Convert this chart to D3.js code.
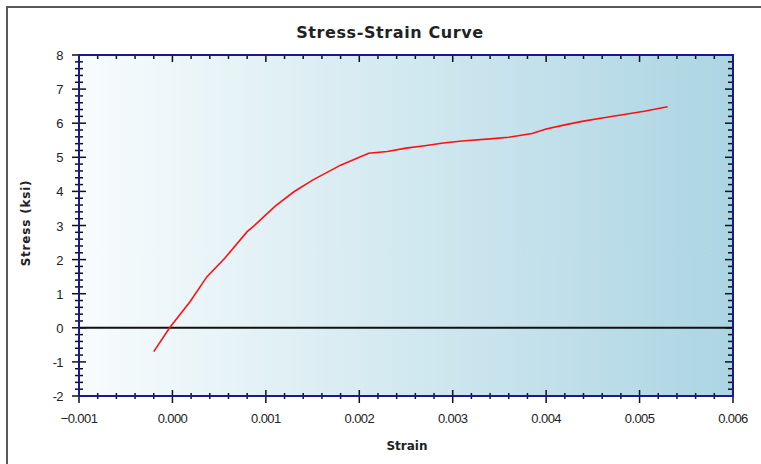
<!DOCTYPE html>
<html lang="en">
	<head>
		<meta charset="utf-8">
		<title>Stress-Strain Curve</title>
		<script type="text/javascript" src="https://d3js.org/d3.v7.min.js"></script>
		<style type="text/css">
			body { margin: 0; background: white; }
			svg { display: block; }
			.tick-label { font-family: "Liberation Sans", Arial, sans-serif; font-size: 13px; fill: #222; letter-spacing: -0.6px; }
			.title { font-family: "DejaVu Sans", sans-serif; font-weight: bold; font-size: 16px; fill: #222; letter-spacing: 0.6px; }
			.axis-title { font-family: "DejaVu Sans", sans-serif; font-weight: bold; font-size: 12px; fill: #222; }
		</style>
	</head>
	<body>
		<svg id="chart" width="761" height="464"></svg>
		<script type="text/javascript">
			// values
			const strain = [-0.0002, -0.00003, 0.00019, 0.00037, 0.00056, 0.0008, 0.00087, 0.0011, 0.0013, 0.0015, 0.0018, 0.0021, 0.0023, 0.0025, 0.0027, 0.0029, 0.0031, 0.0034, 0.0036, 0.0037, 0.00385, 0.004, 0.0042, 0.0044, 0.0046, 0.0048, 0.00505, 0.0053];
			const stress = [-0.7, 0.0, 0.77, 1.5, 2.04, 2.82, 2.98, 3.57, 3.99, 4.33, 4.77, 5.12, 5.17, 5.27, 5.34, 5.42, 5.48, 5.54, 5.59, 5.63, 5.7, 5.83, 5.95, 6.06, 6.15, 6.24, 6.35, 6.48];
			const xTicks = [-0.001, 0.000, 0.001, 0.002, 0.003, 0.004, 0.005, 0.006];
			const yTicks = [-2, -1, 0, 1, 2, 3, 4, 5, 6, 7, 8];

			const pLeft = 79, pRight = 733, pTop = 55, pBottom = 396;

			const svg = d3.select("#chart");

			// outer frame
			svg.append("rect")
				.attr("x", 7).attr("y", 7)
				.attr("width", 780).attr("height", 480)
				.attr("fill", "white")
				.attr("stroke", "#5a5a5a")
				.attr("stroke-width", 2);

			const x = d3.scaleLinear().domain([-0.001, 0.006]).range([pLeft, pRight]);
			const y = d3.scaleLinear().domain([-2, 8]).range([pBottom, pTop]);

			// background gradient
			const grad = svg.append("defs").append("linearGradient")
				.attr("id", "bg").attr("x1", "0%").attr("x2", "100%").attr("y1", "0%").attr("y2", "0%");
			grad.append("stop").attr("offset", "0%").attr("stop-color", "#f8fcfd");
			grad.append("stop").attr("offset", "100%").attr("stop-color", "#acd5e3");

			svg.append("rect")
				.attr("x", pLeft).attr("y", pTop)
				.attr("width", pRight - pLeft).attr("height", pBottom - pTop)
				.attr("fill", "url(#bg)");

			// zero line
			svg.append("line")
				.attr("x1", pLeft).attr("x2", pRight)
				.attr("y1", y(0)).attr("y2", y(0))
				.attr("stroke", "#111").attr("stroke-width", 2);

			// curve
			const pts = strain.map((s, i) => [s, stress[i]]);
			svg.append("path")
				.datum(pts)
				.attr("fill", "none")
				.attr("stroke", "#ff1010")
				.attr("stroke-width", 1.6)
				.attr("d", d3.line().x(d => x(d[0])).y(d => y(d[1])));

			// minor ticks
			const xMinor = d3.range(-0.001, 0.00601, 0.0002).filter(v => Math.abs(Math.round(v / 0.001) * 0.001 - v) > 1e-6);
			const yMinor = d3.range(-2, 8.01, 0.2).filter(v => Math.abs(Math.round(v) - v) > 1e-6);

			const ticks = svg.append("g").attr("stroke", "#111").attr("stroke-width", 1.5);
			xTicks.forEach(v => {
				ticks.append("line").attr("x1", x(v)).attr("x2", x(v)).attr("y1", pBottom - 6).attr("y2", pBottom + 7);
				ticks.append("line").attr("x1", x(v)).attr("x2", x(v)).attr("y1", pTop).attr("y2", pTop + 7);
			});
			xMinor.forEach(v => {
				ticks.append("line").attr("x1", x(v)).attr("x2", x(v)).attr("y1", pBottom - 3).attr("y2", pBottom + 3);
				ticks.append("line").attr("x1", x(v)).attr("x2", x(v)).attr("y1", pTop).attr("y2", pTop + 4);
			});
			yTicks.forEach(v => {
				ticks.append("line").attr("x1", pLeft - 7).attr("x2", pLeft + 7).attr("y1", y(v)).attr("y2", y(v));
				ticks.append("line").attr("x1", pRight - 8).attr("x2", pRight).attr("y1", y(v)).attr("y2", y(v));
			});
			yMinor.forEach(v => {
				ticks.append("line").attr("x1", pLeft - 4).attr("x2", pLeft + 4).attr("y1", y(v)).attr("y2", y(v));
				ticks.append("line").attr("x1", pRight - 5).attr("x2", pRight).attr("y1", y(v)).attr("y2", y(v));
			});

			// axis frame (navy)
			svg.append("rect")
				.attr("x", pLeft).attr("y", pTop)
				.attr("width", pRight - pLeft).attr("height", pBottom - pTop)
				.attr("fill", "none")
				.attr("stroke", "#1a1a8c")
				.attr("stroke-width", 2);

			// tick labels
			svg.append("g").selectAll("text")
				.data(xTicks).enter()
				.append("text")
				.attr("class", "tick-label")
				.attr("x", d => x(d))
				.attr("y", 423)
				.attr("text-anchor", "middle")
				.text(d => d3.format(".3f")(d));

			svg.append("g").selectAll("text")
				.data(yTicks).enter()
				.append("text")
				.attr("class", "tick-label")
				.attr("x", 63)
				.attr("y", d => y(d) + 5)
				.attr("text-anchor", "end")
				.text(d => d);

			// titles
			svg.append("text")
				.attr("class", "title")
				.attr("x", 390).attr("y", 38)
				.attr("text-anchor", "middle")
				.text("Stress-Strain Curve");

			svg.append("text")
				.attr("class", "axis-title")
				.attr("x", 407).attr("y", 450)
				.attr("text-anchor", "middle")
				.text("Strain");

			svg.append("text")
				.attr("class", "axis-title")
				.attr("transform", "translate(30,223) rotate(-90)")
				.attr("text-anchor", "middle")
				.style("letter-spacing", "0.8px")
				.text("Stress (ksi)");
		</script>
	</body>
</html>
